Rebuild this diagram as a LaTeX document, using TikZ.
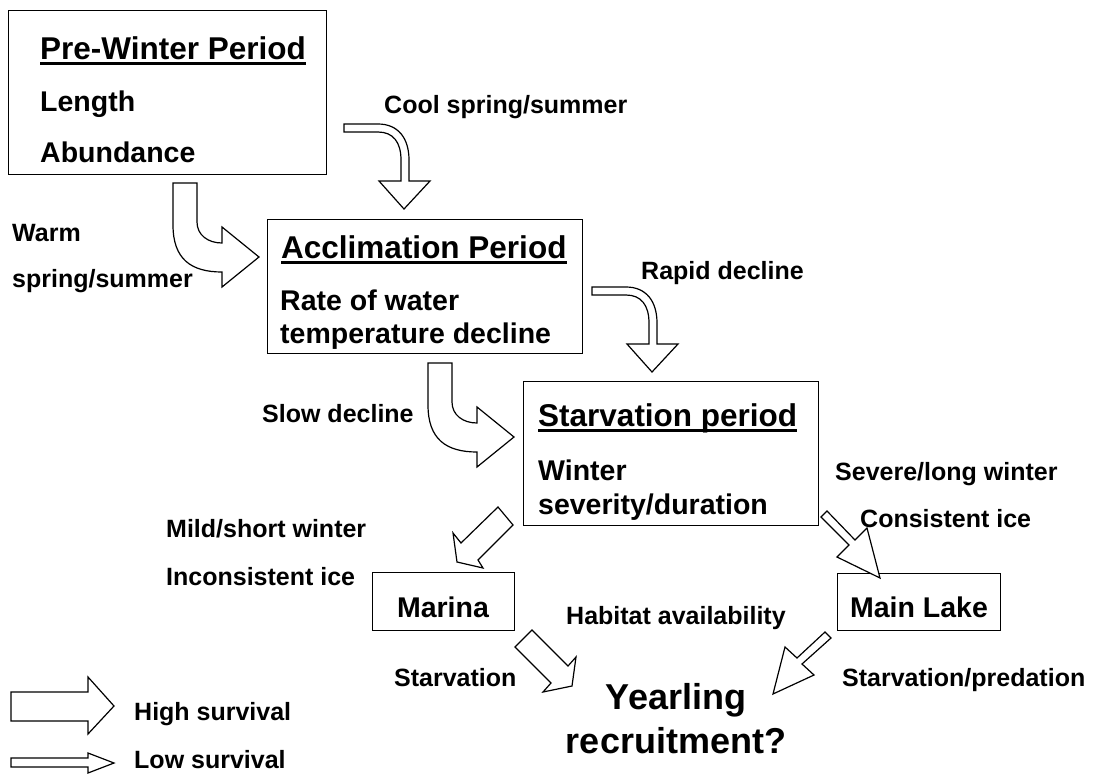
\documentclass[tikz,border=0pt]{standalone}
\usepackage{fontspec}
\setmainfont{Liberation Sans}
\tikzset{
  panel/.style={draw,line width=1.3pt,anchor=north west,inner sep=0pt},
  blockline/.style={draw,fill=white,line width=1.2pt,line join=miter},
  lbl/.style={inner sep=0pt,anchor=base west,font=\fontsize{25}{30}\selectfont\bfseries},
  boxtext/.style={inner sep=0pt,anchor=base west,font=\fontsize{28.5}{34}\selectfont\bfseries},
  heading/.style={inner sep=0pt,anchor=base west,font=\fontsize{31.5}{38}\selectfont\bfseries},
  bigtext/.style={inner sep=0pt,anchor=base,font=\fontsize{36}{43}\selectfont\bfseries},
  bigbend/.pic={
    \draw[blockline] (0,0) -- (0,42) .. controls (0,76) and (18,89) .. (49,89) -- (49,104)
      -- (86,74) -- (49,44) -- (49,60) .. controls (35,60) and (24,52) .. (24,39) -- (24,0) -- cycle;},
  thinbend/.pic={
    \draw[blockline] (0,0) -- (34,0) .. controls (54,0) and (65,14) .. (65,36) -- (65,57)
      -- (86,57) -- (60,85) -- (35,57) -- (57,57) -- (57,36) .. controls (57,18) and (49,8) .. (34,8)
      -- (0,8) -- cycle;}
}
\newcommand{\uln}[1]{\draw[line width=2.3pt] ([yshift=-4.5pt]#1.base west) -- ([yshift=-4.5pt]#1.base east);}
\begin{document}
\begin{tikzpicture}[x=1pt,y=-1pt]
\useasboundingbox (0,0) rectangle (1095,774);
%% period boxes
\node[panel,minimum width=318pt,minimum height=164pt] (pre) at (8,10) {};
\node[panel,minimum width=315pt,minimum height=134pt] (accl) at (267,219) {};
\node[panel,minimum width=295pt,minimum height=144pt] (starv) at (523,381) {};
\node[panel,minimum width=142pt,minimum height=58pt] (marina) at (372,572) {};
\node[panel,minimum width=163pt,minimum height=57pt] (mainlake) at (837,573) {};
%% box texts
\node[heading] (tpre) at (40,59) {Pre-Winter Period};
\node[boxtext] (length) at (40,111) {Length};
\node[boxtext] (abund) at (40,162) {Abundance};
\node[heading] (taccl) at (281,258) {Acclimation Period};
\node[boxtext] (rate) at (280,310) {Rate of water};
\node[boxtext] (temp) at (280,343) {temperature decline};
\node[heading] (tstarv) at (538,426) {Starvation period};
\node[boxtext] (winter) at (538,480) {Winter};
\node[boxtext] (sever) at (538,514) {severity/duration};
\node[boxtext,anchor=base] (tmarina) at (443,617) {Marina};
\node[boxtext,anchor=base] (tmain) at (919,617) {Main Lake};
\uln{tpre}
\uln{taccl}
\uln{tstarv}
%% bent arrows
\pic at (173,183) {bigbend};
\pic at (428,363) {bigbend};
\pic at (344,124) {thinbend};
\pic at (592,287) {thinbend};
%% straight arrows
\draw[blockline] (498,507) -- (461,543) -- (453,533) -- (457,562) -- (483,568) -- (478,560) -- (513,525) -- cycle;
\draw[blockline] (827,511) -- (855,540) -- (867,528) -- (880,578) -- (837,557) -- (849,545) -- (821,517) -- cycle;
\draw[blockline] (532,630) -- (568,666) -- (576,657) -- (572,686) -- (543,692) -- (551,683) -- (515,647) -- cycle;
\draw[blockline] (825,632) -- (797,658) -- (785,647) -- (773,694) -- (814,675) -- (802,664) -- (831,638) -- cycle;
%% legend
\draw[blockline] (11,692) -- (88,692) -- (88,677) -- (114,706) -- (88,734) -- (88,721) -- (11,721) -- cycle;
\draw[blockline] (11,758) -- (88,758) -- (88,753) -- (114,763) -- (88,773) -- (88,767) -- (11,767) -- cycle;
%% labels
\node[lbl] (cool) at (384,113) {Cool spring/summer};
\node[lbl] (warm) at (12,241) {Warm};
\node[lbl] (warm2) at (12,287) {spring/summer};
\node[lbl] (rapid) at (641,279) {Rapid decline};
\node[lbl] (slow) at (262,422) {Slow decline};
\node[lbl] (severe) at (835,480) {Severe/long winter};
\node[lbl] (consist) at (860,527) {Consistent ice};
\node[lbl] (mild) at (166,537) {Mild/short winter};
\node[lbl] (incons) at (166,585) {Inconsistent ice};
\node[lbl] (habitat) at (566,624) {Habitat availability};
\node[lbl] (starvm) at (394,686) {Starvation};
\node[lbl] (starvp) at (842,686) {Starvation/predation};
\node[lbl] (high) at (134,720) {High survival};
\node[lbl] (low) at (134,768) {Low survival};
\node[bigtext] (year) at (676,709) {Yearling};
\node[bigtext] (recr) at (676,753) {recruitment?};
\end{tikzpicture}
\end{document}
